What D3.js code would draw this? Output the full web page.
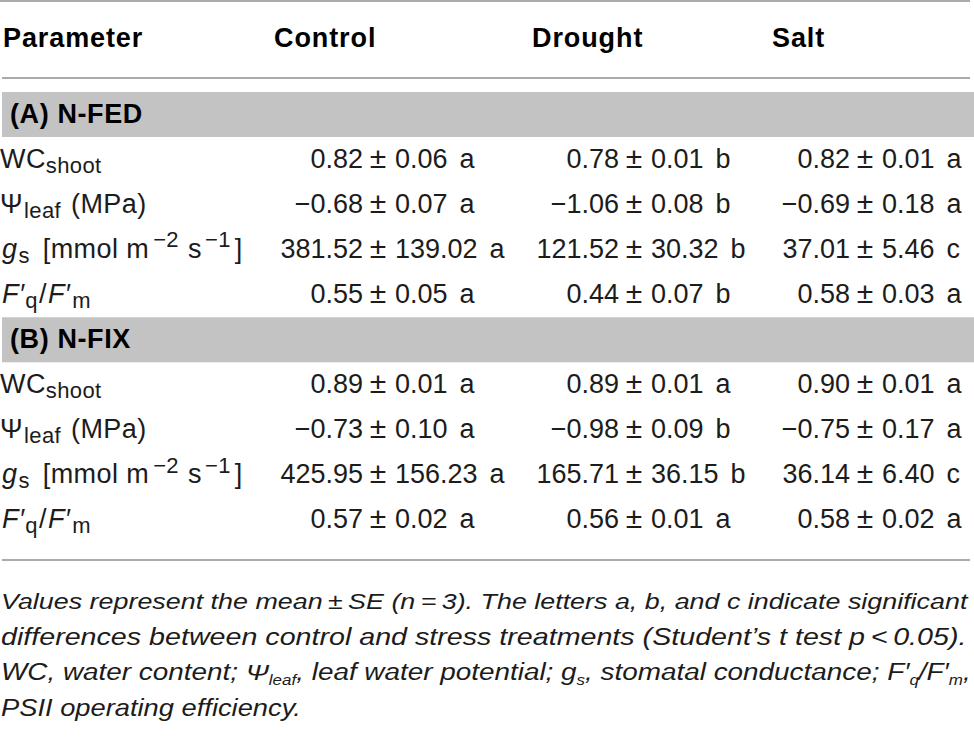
<!DOCTYPE html>
<html>
<head>
<meta charset="utf-8">
<script src="https://cdn.jsdelivr.net/npm/d3@7"></script>
<style>
  body { margin: 0; background: #fff; }
  svg { display: block; }
</style>
</head>
<body>
<svg id="tbl"></svg>
<script>
// table content
const treatments = ["Control", "Drought", "Salt"];
const groups = ["(A) N-FED", "(B) N-FIX"];
const paramLabels = [
  [["WC"], ["shoot", "sub"]],
  [["Ψ"], ["leaf", "sub", 1], ["(MPa)", null, 10]],
  [["g", "it", 2], ["s", "sub", 1], ["[mmol m", null, 13], ["−2", "sup", 4], ["s", null, 9], ["−1", "sup", 3], ["]", null, 4]],
  [["F′", "it", 2], ["q", "sub", 1], ["/", null, 1], ["F′", "it", 1], ["m", "sub", 2]]
];

// N-FED rows: WC, Psi leaf, gs, F'q/F'm ; columns Control, Drought, Salt
const nfedMean = [[0.82, 0.78, 0.82], [-0.68, -1.06, -0.69], [381.52, 121.52, 37.01], [0.55, 0.44, 0.58]];
const nfedSE = [[0.06, 0.01, 0.01], [0.07, 0.08, 0.18], [139.02, 30.32, 5.46], [0.05, 0.07, 0.03]];
const nfedLetter = [["a", "b", "a"], ["a", "b", "a"], ["a", "b", "c"], ["a", "b", "a"]];

const nfixMean = [[0.89, 0.89, 0.90], [-0.73, -0.98, -0.75], [425.95, 165.71, 36.14], [0.57, 0.56, 0.58]];
const nfixSE = [[0.01, 0.01, 0.01], [0.10, 0.09, 0.17], [156.23, 36.15, 6.40], [0.02, 0.01, 0.02]];
const nfixLetter = [["a", "a", "a"], ["a", "b", "a"], ["a", "b", "c"], ["a", "a", "a"]];

const footnote = [
  [["Values represent the mean\u2009±\u2009SE (n\u2009=\u20093). The letters a, b, and c indicate significant"]],
  [["differences between control and stress treatments (Student’s t test p\u2009<\u20090.05)."]],
  [["WC, water content; Ψ"], ["leaf", "sub"], [", leaf water potential; g"], ["s", "sub"],
   [", stomatal conductance; F′"], ["q", "sub"], ["/F′"], ["m", "sub"], [","]],
  [["PSII operating efficiency."]]
];

const W = 974, H = 742;
const font = "'Liberation Sans', Arial, Helvetica, sans-serif";
const ink = "#1c1c1c";
const ruleColor = "#ababab";
const bandColor = "#c3c3c3";

const svg = d3.select("#tbl")
  .attr("width", W)
  .attr("height", H)
  .attr("viewBox", [0, 0, W, H])
  .style("font-family", font);

// row index -> baseline; -1 = band A, 4 = band B
const y = d3.scaleLinear().domain([-1, 8]).range([122.5, 528]);
const pmX = d3.scaleOrdinal().domain(treatments).range([378, 634, 865]);
const headX = d3.scaleOrdinal().domain(treatments).range([274, 532, 772]);
const fmt = d3.format(".2f");

// writes a list of [text, style, dx] pieces as tspans
function rich(text, segs, size, subSize) {
  let shift = 0;
  segs.forEach(([t, kind, dx]) => {
    const ts = text.append("tspan").text(t);
    let target = 0;
    if (kind === "sub") target = size * 0.2;
    if (kind === "sup") target = -size * 0.38;
    if (target !== shift) { ts.attr("dy", target - shift); shift = target; }
    if (dx) ts.attr("dx", dx);
    if (kind === "sub" || kind === "sup") ts.attr("font-size", subSize);
    if (kind === "it") ts.attr("font-style", "italic");
  });
  return text;
}

// rules
const rules = [[0, 970, 1], [2, 970, 78], [2, 970, 560]];
svg.selectAll("line.rule")
  .data(rules)
  .join("line")
  .attr("class", "rule")
  .attr("x1", d => d[0]).attr("x2", d => d[1])
  .attr("y1", d => d[2]).attr("y2", d => d[2])
  .attr("stroke", ruleColor)
  .attr("stroke-width", 2);

// header
const head = svg.append("g")
  .attr("font-weight", "bold")
  .attr("font-size", 27)
  .attr("letter-spacing", 0.9)
  .attr("fill", "#000");
head.append("text").attr("x", 3).attr("y", 47).text("Parameter");
head.selectAll("text.col")
  .data(treatments)
  .join("text")
  .attr("class", "col")
  .attr("x", d => headX(d))
  .attr("y", 47)
  .text(d => d);

// group bands
const bands = svg.selectAll("g.band")
  .data(groups)
  .join("g")
  .attr("class", "band");
bands.append("rect")
  .attr("x", 2)
  .attr("y", (d, i) => y(i * 5 - 1) - 30.5)
  .attr("width", W - 2)
  .attr("height", 45)
  .attr("fill", bandColor);
bands.append("text")
  .attr("x", 10)
  .attr("y", (d, i) => y(i * 5 - 1))
  .attr("font-weight", "bold")
  .attr("font-size", 27)
  .attr("letter-spacing", 0.6)
  .attr("fill", "#000")
  .text(d => d);

// data rows
const rows = groups.flatMap((g, gi) => paramLabels.map((lab, pi) => ({
  k: gi * 5 + pi,
  lab,
  mean: (gi ? nfixMean : nfedMean)[pi],
  se: (gi ? nfixSE : nfedSE)[pi],
  letter: (gi ? nfixLetter : nfedLetter)[pi]
})));

const rowG = svg.selectAll("g.row")
  .data(rows)
  .join("g")
  .attr("class", "row")
  .attr("font-size", 27)
  .attr("fill", ink);

rowG.each(function(d) {
  const g = d3.select(this);
  const t = g.append("text").attr("x", 0).attr("y", y(d.k)).attr("letter-spacing", 0.4);
  rich(t, d.lab, 27, 22);

  treatments.forEach((tr, ti) => {
    const cx = pmX(tr);
    g.append("text")
      .attr("x", cx - 15).attr("y", y(d.k))
      .attr("text-anchor", "end")
      .text(fmt(d.mean[ti]));
    g.append("text")
      .attr("x", cx).attr("y", y(d.k))
      .attr("text-anchor", "middle")
      .attr("font-size", 30)
      .text("±");
    const r = g.append("text")
      .attr("x", cx + 17).attr("y", y(d.k));
    r.append("tspan").text(fmt(d.se[ti]));
    r.append("tspan").attr("dx", 12).text(d.letter[ti]);
  });
});

// footnote, each line squeezed to its width
const noteBase = d3.scaleLinear().domain([0, 3]).range([609, 716]);
const noteWidth = [967, 966, 970, 300];
footnote.forEach((segs, i) => {
  const g = svg.append("g");
  const t = g.append("text")
    .attr("x", 0).attr("y", 0)
    .attr("font-style", "italic")
    .attr("font-size", 23)
    .attr("fill", ink);
  rich(t, segs, 23, 14);
  const len = t.node().getComputedTextLength();
  const sx = noteWidth[i] / len;
  g.attr("transform", `translate(1,${noteBase(i)}) scale(${sx},1)`);
});
</script>
</body>
</html>
